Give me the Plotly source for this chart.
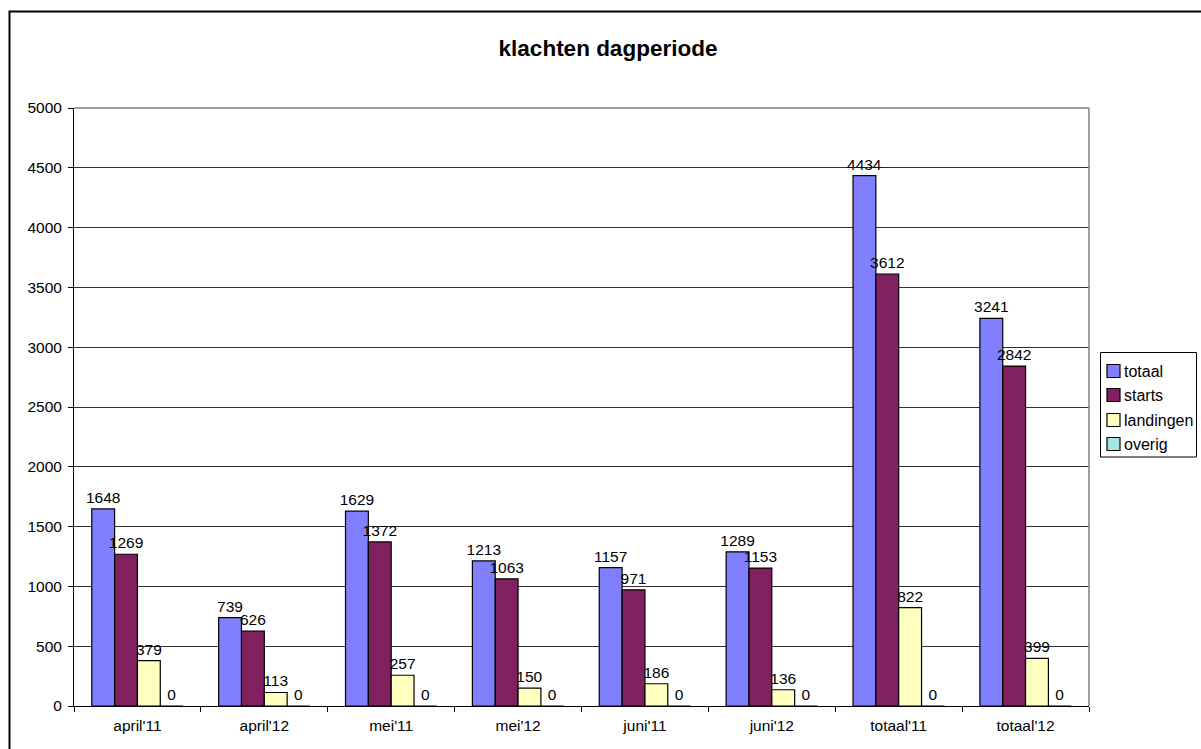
import plotly.graph_objects as go

categories = ["april'11", "april'12", "mei'11", "mei'12", "juni'11", "juni'12", "totaal'11", "totaal'12"]
totaal = [1648, 739, 1629, 1213, 1157, 1289, 4434, 3241]
starts = [1269, 626, 1372, 1063, 971, 1153, 3612, 2842]
landingen = [379, 113, 257, 150, 186, 136, 822, 399]
overig = [0, 0, 0, 0, 0, 0, 0, 0]
y_ticks = [0, 500, 1000, 1500, 2000, 2500, 3000, 3500, 4000, 4500, 5000]

series_names = ["totaal", "starts", "landingen", "overig"]
series_values = [totaal, starts, landingen, overig]
series_colors = ["#8080FF", "#80205F", "#FFFFC0", "#A6E3E3"]

FONT = "Liberation Sans, Arial, sans-serif"

fig = go.Figure()
for name, vals, col in zip(series_names, series_values, series_colors):
    fig.add_trace(go.Bar(
        name=name, x=categories, y=vals,
        marker=dict(color=col, line=dict(color="#000000", width=1.2)),
        text=[str(v) for v in vals], textposition="outside",
        textfont=dict(family=FONT, size=15.5, color="#000000"),
        constraintext="none",
        cliponaxis=False,
    ))

L, R, T, B = 74, 1089, 108, 706
W, H = 1201, 749
pw, ph = R - L, B - T


def px(x):  # reference x pixel -> paper
    return (x - L) / pw


def py(y):  # reference y pixel -> paper
    return (B - y) / ph


fig.update_layout(
    width=W, height=H,
    margin=dict(l=L, r=W - R, t=T, b=H - B, autoexpand=False),
    paper_bgcolor="white", plot_bgcolor="white",
    barmode="group", bargap=0.28, bargroupgap=0,
    font=dict(family=FONT, size=15.5, color="#000000"),
    title=dict(text="<b>klachten dagperiode</b>", x=608 / W, xref="container",
               y=1 - 48 / H, yref="container", xanchor="center", yanchor="middle",
               font=dict(family=FONT, size=22.5, color="#000000")),
    showlegend=False,
)
fig.update_xaxes(
    showline=True, linecolor="#000000", linewidth=1,
    ticks="outside", tickson="boundaries", ticklen=5, tickcolor="#000000",
    tickfont=dict(family=FONT, size=15.5, color="#000000"),
    ticklabelstandoff=5,
    showgrid=False,
)
fig.update_yaxes(
    range=[0, 5000], tickvals=y_ticks,
    showline=True, linecolor="#000000", linewidth=1,
    ticks="outside", ticklen=5, tickcolor="#000000",
    tickfont=dict(family=FONT, size=15.5, color="#000000"),
    ticklabelstandoff=3,
    showgrid=True, gridcolor="#303030", gridwidth=1,
    zeroline=False,
)

shapes = []
# plot-area gray border (top and right)
shapes.append(dict(type="line", xref="paper", yref="paper", x0=0, x1=1, y0=1, y1=1,
                   line=dict(color="#808080", width=1.5)))
shapes.append(dict(type="line", xref="paper", yref="paper", x0=1, x1=1, y0=0, y1=1,
                   line=dict(color="#808080", width=1.5)))
# outer chart border
shapes.append(dict(type="rect", xref="paper", yref="paper",
                   x0=px(9.5), x1=px(1215), y0=py(770), y1=py(11.5),
                   line=dict(color="#000000", width=2), layer="above"))
# legend box
shapes.append(dict(type="rect", xref="paper", yref="paper",
                   x0=px(1100.5), x1=px(1196.5), y0=py(457), y1=py(352.5),
                   line=dict(color="#000000", width=1), fillcolor="white"))
annotations = []
row_y = [371, 395, 420, 444]
for name, col, ry in zip(series_names, series_colors, row_y):
    shapes.append(dict(type="rect", xref="paper", yref="paper",
                       x0=px(1107), x1=px(1120), y0=py(ry + 6.5), y1=py(ry - 6.5),
                       line=dict(color="#000000", width=1.2), fillcolor=col))
    annotations.append(dict(text=name, xref="paper", yref="paper", x=px(1122), y=py(ry),
                            xanchor="left", yanchor="middle", showarrow=False,
                            font=dict(family=FONT, size=16, color="#000000")))
fig.update_layout(shapes=shapes, annotations=annotations)

fig.write_html(
    "out.html",
    config={"displayModeBar": False},
    post_script="document.body.style.margin='0';document.body.style.overflow='hidden';",
)
